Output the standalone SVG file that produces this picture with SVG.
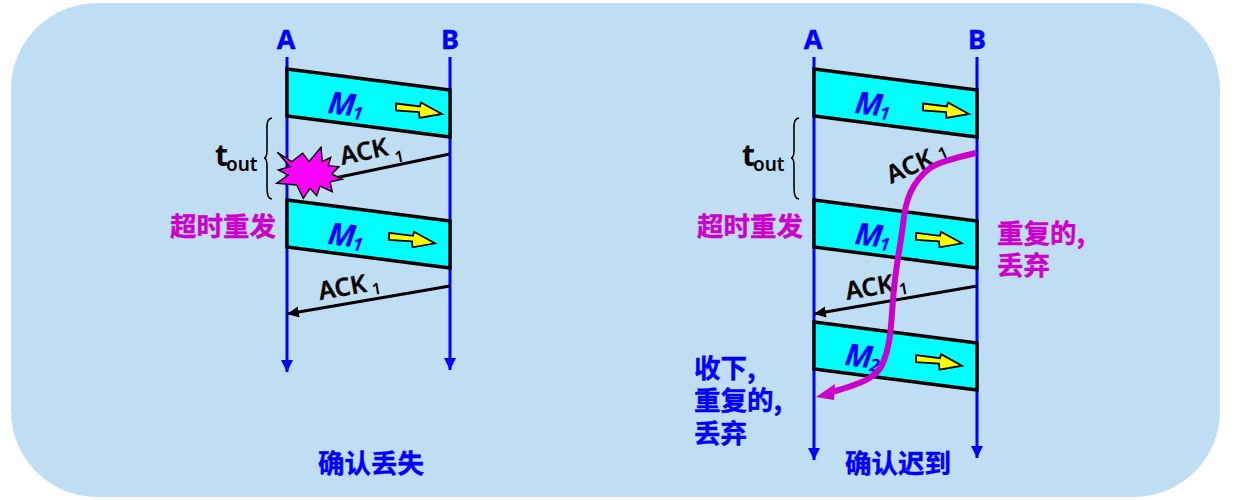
<svg xmlns="http://www.w3.org/2000/svg" width="1234" height="500" viewBox="0 0 1234 500">
<style>
text{font-family:"Noto Sans","Noto Sans CJK SC",sans-serif}
.hd{font-size:27px;font-weight:700;fill:#0000ff;stroke:#0000ff;stroke-width:.4;text-anchor:middle}
.cn{font-size:26.5px;font-weight:700;font-family:"Noto Sans CJK SC",sans-serif;stroke-width:.4}
.mg{fill:#cc00cc;stroke:#cc00cc}.bl{fill:#0000ff;stroke:#0000ff}
.m{font-size:31px;font-style:italic;font-weight:700;fill:#0000ff}
.ms{font-size:18px;font-style:italic;font-weight:700;fill:#0000ff}
.ack{font-size:25px;font-weight:600;fill:#000;stroke:#000;stroke-width:.3}
.acks{font-size:16px;font-weight:600;fill:#000}
.t{font-size:30px;font-weight:700;fill:#000}
.ts{font-size:19px;font-weight:600;fill:#000}
.life{stroke:#0000ff;stroke-width:3;fill:none}
.pkt{fill:#00ffff;stroke:#000;stroke-width:3.4;stroke-linejoin:miter}
.ackl{stroke:#000;stroke-width:3;fill:none}
.yl{fill:#ffff00;stroke:#000;stroke-width:1.8}
.br{fill:none;stroke:#000;stroke-width:1.6}
</style>
<defs>
<marker id="ah" markerUnits="userSpaceOnUse" markerWidth="14" markerHeight="14" refX="12" refY="6" orient="auto"><path d="M0 0L12 6L0 12Z" fill="#0000ff"/></marker>
<marker id="ab" markerUnits="userSpaceOnUse" markerWidth="14" markerHeight="14" refX="12" refY="5.5" orient="auto"><path d="M0 0L12 5.5L0 11Z" fill="#000"/></marker>
<polygon id="ya" class="yl" points="396,103.5 420,106.5 421,102.5 442,114 419.5,118 419,112 396,110.5"/>
</defs>
<rect id="bg" x="11" y="3" width="1209" height="494" rx="86" ry="86" fill="#bfddf3"/>

<g id="connectors">
<path class="life" d="M287 57V372" marker-end="url(#ah)"/>
<path class="life" d="M450 57V370" marker-end="url(#ah)"/>
<path class="life" d="M814 57V460" marker-end="url(#ah)"/>
<path class="life" d="M977 57V458" marker-end="url(#ah)"/>
</g>

<g id="left-packet-1"><polygon class="pkt" points="287,69 450,90 450,137 287,116"/><text class="m" x="327" y="113" transform="rotate(7 327 113)">M</text><text class="ms" x="352" y="119" transform="rotate(7 352 119)">1</text><use href="#ya"/></g>
<g id="left-packet-2"><polygon class="pkt" points="287,200 450,221 450,268 287,247"/><text class="m" x="327" y="244" transform="rotate(7 327 244)">M</text><text class="ms" x="352" y="250" transform="rotate(7 352 250)">1</text><use href="#ya" transform="translate(-7 129.3)"/></g>

<g id="right-packet-1"><polygon class="pkt" points="814,69 977,90 977,137 814,116"/><text class="m" x="854" y="113" transform="rotate(7 854 113)">M</text><text class="ms" x="879" y="119" transform="rotate(7 879 119)">1</text><use href="#ya" transform="translate(527 0)"/></g>
<g id="right-packet-2"><polygon class="pkt" points="814,200 977,221 977,268 814,247"/><text class="m" x="854" y="244" transform="rotate(7 854 244)">M</text><text class="ms" x="879" y="250" transform="rotate(7 879 250)">1</text><use href="#ya" transform="translate(520 129.3)"/></g>
<g id="right-packet-3"><polygon class="pkt" points="814,322 977,343 977,390 814,369"/><text class="m" x="844" y="365" transform="rotate(7 844 365)">M</text><text class="ms" x="869" y="371" transform="rotate(7 869 371)">2</text><use href="#ya" transform="translate(520 251.7)"/></g>

<g id="acks">
<path class="ackl" d="M450 154L330 179"/>
<text class="ack" x="342" y="165" transform="rotate(-12 342 165)">ACK</text><text class="acks" x="396" y="163" transform="rotate(-12 396 163)">1</text>
<path class="ackl" d="M450 286L287 314" marker-end="url(#ab)"/>
<text class="ack" x="320" y="300" transform="rotate(-10 320 300)">ACK</text><text class="acks" x="373" y="295" transform="rotate(-10 373 295)">1</text>
<path class="ackl" d="M977 286L814 314" marker-end="url(#ab)"/>
<text class="ack" x="847" y="300" transform="rotate(-10 847 300)">ACK</text><text class="acks" x="900" y="295" transform="rotate(-10 900 295)">1</text>
<text class="ack" x="891" y="184" transform="rotate(-24 891 184)">ACK</text><text class="acks" x="941" y="160" transform="rotate(-24 941 160)">1</text>
</g>

<g id="lost"><polygon points="277.3,152.3 291.7,161.7 302.7,153.3 309,161.7 321,147.3 322.3,161.7 330.7,157.3 328.3,165.7 339,166.7 331.7,174 342.3,179.3 330,181.7 332.3,191.7 320,186 316.7,195.7 310,188.3 303.3,198.3 296.7,185 276.7,183.3 288.3,175 278.3,170 290,166.7" fill="#ff00ff" stroke="#000" stroke-width="1.4"/></g>

<g id="late-ack">
<path d="M976 153C950 159 937 163 930 168C912 182 905 200 903 225C899 255 895 270 893 300C891 325 891 345 882 365C876 378 860 384 832 392" fill="none" stroke="#cc00cc" stroke-width="6"/>
<polygon points="816,397 835,384 834,400" fill="#cc00cc"/>
</g>

<g id="labels">
<text class="hd" x="286" y="49">A</text><text class="hd" x="450" y="49">B</text>
<text class="hd" x="813" y="49">A</text><text class="hd" x="977" y="49">B</text>
<path class="br" d="M272 118C266 119 267 126 267 135V150C267 155 266 158 264 158C266 158 267 161 267 166V188C267 195 268 199 272 199"/>
<path class="br" d="M799 118C793 119 794 126 794 135V150C794 155 793 158 791 158C793 158 794 161 794 166V188C794 195 795 199 799 199"/>
<text class="t" x="215" y="166">t</text><text class="ts" x="226" y="171">out</text>
<text class="t" x="742" y="166">t</text><text class="ts" x="753" y="171">out</text>
<text class="cn mg" x="170" y="236">超时重发</text>
<text class="cn mg" x="697" y="236">超时重发</text>
<text class="cn mg" x="997" y="243">重复的,</text>
<text class="cn mg" x="997" y="275">丢弃</text>
<text class="cn bl" x="694" y="378">收下,</text>
<text class="cn bl" x="694" y="410">重复的,</text>
<text class="cn bl" x="694" y="443">丢弃</text>
<text class="cn bl" x="318" y="473">确认丢失</text>
<text class="cn bl" x="845" y="473">确认迟到</text>
</g>
</svg>
